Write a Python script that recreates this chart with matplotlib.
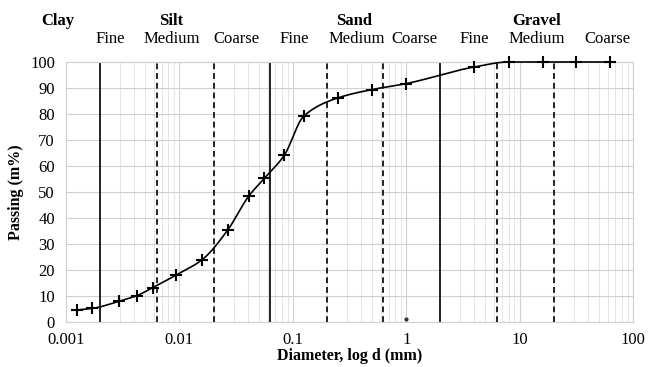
import matplotlib
matplotlib.use("Agg")
import matplotlib.pyplot as plt
import numpy as np
from matplotlib.ticker import LogLocator, FixedLocator, NullFormatter

plt.rcParams['font.family'] = ['Liberation Serif', 'DejaVu Serif']

# Data
diameter = [0.00124, 0.0017, 0.00295, 0.0042, 0.0058, 0.0093, 0.0159, 0.0266,
            0.041, 0.056, 0.084, 0.125, 0.25, 0.5, 1.0, 4.0, 8.0, 16.0, 31.5, 63.0]
passing = [4.6, 5.2, 8.0, 10.1, 13.2, 18.0, 24.0, 35.3,
           48.5, 55.2, 64.1, 79.2, 86.2, 89.4, 91.7, 98.1, 100, 100, 100, 100]

solid_bounds = [0.002, 0.063, 2.0]
dashed_bounds = [0.0063, 0.02, 0.2, 0.63, 6.3, 20.0]

main_labels = ["Clay", "Silt", "Sand", "Gravel"]
main_pos = [0.00085, 0.0084, 0.35, 14.1]
sub_labels = ["Fine", "Medium", "Coarse", "Fine", "Medium", "Coarse",
              "Fine", "Medium", "Coarse"]
sub_pos = [0.00244, 0.0086, 0.032, 0.104, 0.366, 1.19, 4.01, 14.1, 59.6]

stray_x = [1.0]
stray_y = [1.0]

# smooth curve in log-x space (monotone cubic)
def pchip(x, y, xn):
    x = np.asarray(x, float); y = np.asarray(y, float)
    h = np.diff(x); d = np.diff(y) / h
    m = np.zeros_like(x)
    for k in range(1, len(x) - 1):
        if d[k-1] * d[k] > 0:
            w1 = 2*h[k] + h[k-1]; w2 = h[k] + 2*h[k-1]
            m[k] = (w1 + w2) / (w1/d[k-1] + w2/d[k])
    m[0] = d[0]; m[-1] = d[-1]
    out = np.empty_like(xn)
    idx = np.clip(np.searchsorted(x, xn) - 1, 0, len(x) - 2)
    for j, (xv, i) in enumerate(zip(xn, idx)):
        t = (xv - x[i]) / h[i]
        h00 = 2*t**3 - 3*t**2 + 1; h10 = t**3 - 2*t**2 + t
        h01 = -2*t**3 + 3*t**2; h11 = t**3 - t**2
        out[j] = h00*y[i] + h10*h[i]*m[i] + h01*y[i+1] + h11*h[i]*m[i+1]
    return out

lx = np.log10(diameter)
xs = np.linspace(lx[0], lx[-1], 600)
ys = pchip(lx, passing, xs)

fig = plt.figure(figsize=(6.48, 3.67), dpi=100)
ax = fig.add_axes([66/648, 1 - 322/367, (633-66)/648, (322-62)/367])

ax.set_xscale('log')
ax.set_xlim(0.001, 100)
ax.set_ylim(0, 100)
ax.set_yticks(range(0, 101, 10))
ax.xaxis.set_major_locator(FixedLocator([0.001, 0.01, 0.1, 1, 10, 100]))
ax.set_xticklabels(["0.001", "0.01", "0.1", "1", "10", "100"])
ax.xaxis.set_minor_locator(LogLocator(base=10, subs=np.arange(2, 10)))
ax.xaxis.set_minor_formatter(NullFormatter())
ax.grid(True, which='major', color='#d0d0d0', lw=0.8)
ax.grid(True, which='minor', axis='x', color='#e0e0e0', lw=0.6)
ax.tick_params(which='both', length=0, labelsize=12)
ax.tick_params(axis='x', pad=7)
ax.tick_params(axis='y', pad=8)
for s in ax.spines.values():
    s.set_color('#d0d0d0'); s.set_linewidth(0.8)

for b in solid_bounds:
    ax.axvline(b, color='#222222', lw=1.4)
for b in dashed_bounds:
    ax.axvline(b, color='#222222', lw=1.4, ls=(0, (3, 2)))

ax.plot(10**xs, ys, color='black', lw=1.2, zorder=5, clip_on=False)
ax.plot(diameter, passing, ls='none', marker='+', ms=8, mew=1.5, color='black',
        zorder=6, clip_on=False)
ax.plot(stray_x, stray_y, ls='none', marker='o', ms=2, color='#333333', zorder=6)

for lab, p in zip(main_labels, main_pos):
    ax.text(p, 1.158, lab, transform=ax.get_xaxis_transform(), ha='center', va='center',
            fontsize=12, fontweight='bold')
for lab, p in zip(sub_labels, sub_pos):
    ax.text(p, 1.088, lab, transform=ax.get_xaxis_transform(), ha='center', va='center',
            fontsize=12)

ax.set_xlabel("Diameter, log d (mm)", fontsize=11.5, fontweight='bold', labelpad=0)
ax.set_ylabel("Passing (m%)", fontsize=11.5, fontweight='bold', labelpad=4)

fig.savefig("out.png", dpi=100)
